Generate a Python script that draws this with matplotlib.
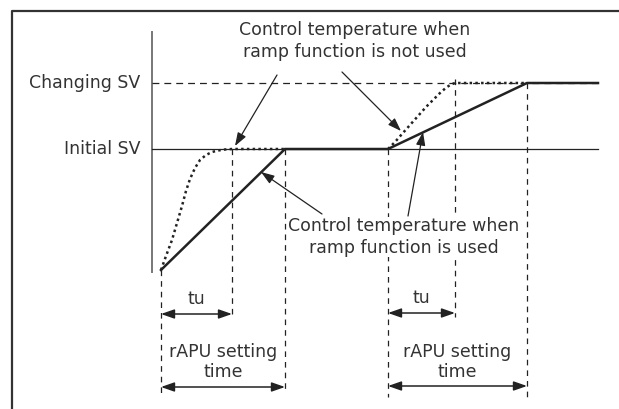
import matplotlib.pyplot as plt

# diagram key positions (pixel-like units of the original drawing)
t_start = 161        # ramp 1 start
t_tu1 = 232          # dotted curve 1 reaches Initial SV
t_end1 = 285         # ramp 1 reaches Initial SV
t_start2 = 388       # SV change
t_tu2 = 455          # dotted curve 2 reaches Changing SV
t_end2 = 527         # ramp 2 reaches Changing SV
t_last = 598

lvl_initial = 149
lvl_changing = 83
lvl_bottom = 270

# "ramp function not used" response (dotted)
free1_t = [161, 166, 172, 177, 182, 186, 190, 195, 200, 206, 212, 218, 225, 232, 285]
free1_v = [270, 256, 240, 223, 206, 191, 179, 168, 160, 155, 152, 150.5, 149.5, 149, 149]
free2_t = [388, 395, 402, 410, 418, 426, 434, 441, 447, 451, 455, 527]
free2_v = [149, 142, 134, 125, 116, 107, 99, 92, 87, 84.5, 83, 83]

# ramp function used (solid)
ramp_t = [t_start, t_end1, t_start2, t_end2, t_last]
ramp_v = [lvl_bottom, lvl_initial, lvl_initial, lvl_changing, lvl_changing]

fig = plt.figure(figsize=(6.19, 4.09), dpi=100)
ax = fig.add_axes([0, 0, 1, 1])
ax.set_xlim(0, 619)
ax.set_ylim(409, 0)
ax.axis('off')

fs = 12.5
col = '#222222'
tcol = '#333333'

# frame
ax.plot([12, 12, 619], [409, 11, 11], color='#333333', lw=1.6)

# vertical axis
ax.plot([152, 152], [32, 272], color='#777777', lw=1.4)

# reference levels
ax.plot([152, t_last], [lvl_initial, lvl_initial], color=col, lw=0.9)
ax.plot([152, t_last], [lvl_changing, lvl_changing], color=col, lw=0.9, ls=(0, (5.5, 4)))
ax.text(140, lvl_changing, 'Changing SV', ha='right', va='center', fontsize=fs, color=tcol)
ax.text(140, lvl_initial, 'Initial SV', ha='right', va='center', fontsize=fs, color=tcol)

# vertical dashed markers
dash = dict(color=col, lw=0.9, ls=(0, (4.5, 4)))
ax.plot([t_start, t_start], [lvl_bottom, 397], **dash)
ax.plot([t_tu1, t_tu1], [lvl_initial, 318], **dash)
ax.plot([t_end1, t_end1], [lvl_initial, 392], **dash)
ax.plot([t_start2, t_start2], [lvl_initial, 397], **dash)
ax.plot([t_tu2, t_tu2], [79, 317], **dash)
ax.plot([t_end2, t_end2], [lvl_changing, 397], **dash)

# curves
ax.plot(free1_t, free1_v, color=col, lw=1.8, ls=(0, (1, 1.3)))
ax.plot(free2_t, free2_v, color=col, lw=1.8, ls=(0, (1, 1.3)))
ax.plot(ramp_t, ramp_v, color=col, lw=1.8, solid_joinstyle='miter')

# interval arrows
arr = dict(arrowstyle='<|-|>,head_length=0.8,head_width=0.28', color=col, lw=1.1,
           shrinkA=0, shrinkB=0)
ax.annotate('', xy=(t_start, 314), xytext=(t_tu1, 314), arrowprops=arr)
ax.annotate('', xy=(t_start2, 313), xytext=(t_tu2, 313), arrowprops=arr)
ax.annotate('', xy=(t_start, 387), xytext=(t_end1, 387), arrowprops=arr)
ax.annotate('', xy=(t_start2, 386), xytext=(t_end2, 386), arrowprops=arr)

ax.text((t_start + t_tu1) / 2, 299, 'tu', ha='center', va='center', fontsize=fs, color=tcol)
ax.text((t_start2 + t_tu2) / 2, 298, 'tu', ha='center', va='center', fontsize=fs, color=tcol)
ax.text((t_start + t_end1) / 2, 362, 'rAPU setting\ntime', ha='center', va='center',
        fontsize=fs, color=tcol, linespacing=1.15)
ax.text((t_start2 + t_end2) / 2, 362, 'rAPU setting\ntime', ha='center', va='center',
        fontsize=fs, color=tcol, linespacing=1.15)

# callouts
ax.text(355, 41, 'Control temperature when\nramp function is not used', ha='center',
        va='center', fontsize=fs, color=tcol, linespacing=1.25)
ax.text(404, 237, 'Control temperature when\nramp function is used', ha='center',
        va='center', fontsize=fs, color=tcol, linespacing=1.25,
        bbox=dict(facecolor='white', edgecolor='none', pad=0.5))
pt = dict(arrowstyle='-|>,head_length=0.8,head_width=0.28', color=col, lw=0.9,
          shrinkA=0, shrinkB=0)
ax.annotate('', xy=(235, 146), xytext=(277, 75), arrowprops=pt)
ax.annotate('', xy=(401, 131), xytext=(342, 72), arrowprops=pt)
ax.annotate('', xy=(261, 172), xytext=(322, 214), arrowprops=pt)
ax.annotate('', xy=(423, 132), xytext=(408, 216), arrowprops=pt)

fig.savefig('out.png', dpi=100)
